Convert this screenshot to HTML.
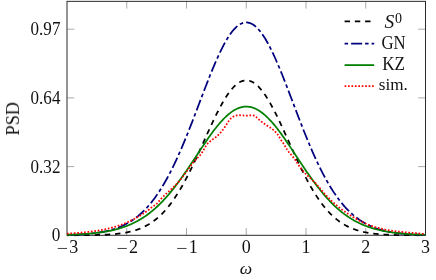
<!DOCTYPE html>
<html><head><meta charset="utf-8"><title>PSD plot</title>
<style>
html,body{margin:0;padding:0;background:#fff;}
svg{display:block;}
text{font-family:"Liberation Serif",serif;fill:#111;}
</style></head><body>
<svg width="436" height="280" viewBox="0 0 436 280">
<rect x="0" y="0" width="436" height="280" fill="#fff"/>
<g stroke="#2a2a2a" stroke-width="0.4" fill="none">
<line x1="126.75" y1="235.3" x2="126.75" y2="228.0"/><line x1="126.75" y1="1.35" x2="126.75" y2="8.65"/>
<line x1="186.50" y1="235.3" x2="186.50" y2="228.0"/><line x1="186.50" y1="1.35" x2="186.50" y2="8.65"/>
<line x1="246.25" y1="235.3" x2="246.25" y2="228.0"/><line x1="246.25" y1="1.35" x2="246.25" y2="8.65"/>
<line x1="306.00" y1="235.3" x2="306.00" y2="228.0"/><line x1="306.00" y1="1.35" x2="306.00" y2="8.65"/>
<line x1="365.75" y1="235.3" x2="365.75" y2="228.0"/><line x1="365.75" y1="1.35" x2="365.75" y2="8.65"/>
<line x1="67.0" y1="166.60" x2="74.3" y2="166.60"/><line x1="425.5" y1="166.60" x2="418.2" y2="166.60"/>
<line x1="67.0" y1="97.90" x2="74.3" y2="97.90"/><line x1="425.5" y1="97.90" x2="418.2" y2="97.90"/>
<line x1="67.0" y1="29.20" x2="74.3" y2="29.20"/><line x1="425.5" y1="29.20" x2="418.2" y2="29.20"/>
</g>
<rect x="67.0" y="1.35" width="358.5" height="233.95000000000002" fill="none" stroke="#2a2a2a" stroke-width="1.0"/>
<clipPath id="c"><rect x="66.6" y="1.35" width="359.0" height="235.15"/></clipPath>
<g fill="none" clip-path="url(#c)" stroke-linejoin="round">
<path d="M67.00,235.28 L68.00,235.28 L69.00,235.28 L70.00,235.27 L71.00,235.27 L72.00,235.27 L73.00,235.26 L74.00,235.26 L75.00,235.26 L76.00,235.25 L77.00,235.25 L78.00,235.24 L79.00,235.24 L80.00,235.23 L81.00,235.22 L82.00,235.22 L83.00,235.21 L84.00,235.20 L85.00,235.19 L86.00,235.18 L87.00,235.17 L88.00,235.15 L89.00,235.14 L90.00,235.13 L91.00,235.11 L92.00,235.09 L93.00,235.08 L94.00,235.06 L95.00,235.03 L96.00,235.01 L97.00,234.99 L98.00,234.96 L99.00,234.93 L100.00,234.90 L101.00,234.86 L102.00,234.83 L103.00,234.79 L104.00,234.75 L105.00,234.70 L106.00,234.65 L107.00,234.60 L108.00,234.54 L109.00,234.48 L110.00,234.42 L111.00,234.35 L112.00,234.28 L113.00,234.20 L114.00,234.11 L115.00,234.02 L116.00,233.92 L117.00,233.82 L118.00,233.71 L119.00,233.59 L120.00,233.47 L121.00,233.34 L122.00,233.20 L123.00,233.04 L124.00,232.89 L125.00,232.72 L126.00,232.54 L127.00,232.35 L128.00,232.14 L129.00,231.93 L130.00,231.70 L131.00,231.46 L132.00,231.21 L133.00,230.94 L134.00,230.66 L135.00,230.36 L136.00,230.05 L137.00,229.72 L138.00,229.37 L139.00,229.00 L140.00,228.62 L141.00,228.21 L142.00,227.79 L143.00,227.34 L144.00,226.87 L145.00,226.38 L146.00,225.86 L147.00,225.32 L148.00,224.76 L149.00,224.17 L150.00,223.55 L151.00,222.91 L152.00,222.24 L153.00,221.54 L154.00,220.81 L155.00,220.05 L156.00,219.26 L157.00,218.44 L158.00,217.58 L159.00,216.70 L160.00,215.78 L161.00,214.82 L162.00,213.83 L163.00,212.81 L164.00,211.75 L165.00,210.65 L166.00,209.52 L167.00,208.34 L168.00,207.14 L169.00,205.89 L170.00,204.61 L171.00,203.28 L172.00,201.92 L173.00,200.52 L174.00,199.08 L175.00,197.61 L176.00,196.09 L177.00,194.54 L178.00,192.95 L179.00,191.32 L180.00,189.66 L181.00,187.95 L182.00,186.22 L183.00,184.44 L184.00,182.63 L185.00,180.79 L186.00,178.91 L187.00,177.01 L188.00,175.07 L189.00,173.10 L190.00,171.10 L191.00,169.08 L192.00,167.03 L193.00,164.95 L194.00,162.86 L195.00,160.74 L196.00,158.60 L197.00,156.45 L198.00,154.28 L199.00,152.09 L200.00,149.90 L201.00,147.69 L202.00,145.48 L203.00,143.27 L204.00,141.05 L205.00,138.83 L206.00,136.62 L207.00,134.41 L208.00,132.21 L209.00,130.02 L210.00,127.84 L211.00,125.68 L212.00,123.54 L213.00,121.42 L214.00,119.32 L215.00,117.25 L216.00,115.22 L217.00,113.21 L218.00,111.24 L219.00,109.31 L220.00,107.42 L221.00,105.57 L222.00,103.77 L223.00,102.02 L224.00,100.32 L225.00,98.67 L226.00,97.08 L227.00,95.56 L228.00,94.09 L229.00,92.69 L230.00,91.35 L231.00,90.08 L232.00,88.88 L233.00,87.76 L234.00,86.71 L235.00,85.73 L236.00,84.83 L237.00,84.01 L238.00,83.28 L239.00,82.62 L240.00,82.04 L241.00,81.55 L242.00,81.14 L243.00,80.82 L244.00,80.59 L245.00,80.43 L246.00,80.37 L247.00,80.39 L248.00,80.50 L249.00,80.69 L250.00,80.97 L251.00,81.34 L252.00,81.79 L253.00,82.32 L254.00,82.94 L255.00,83.63 L256.00,84.41 L257.00,85.27 L258.00,86.21 L259.00,87.22 L260.00,88.31 L261.00,89.47 L262.00,90.71 L263.00,92.01 L264.00,93.38 L265.00,94.81 L266.00,96.31 L267.00,97.87 L268.00,99.49 L269.00,101.16 L270.00,102.89 L271.00,104.66 L272.00,106.49 L273.00,108.36 L274.00,110.27 L275.00,112.22 L276.00,114.21 L277.00,116.23 L278.00,118.28 L279.00,120.37 L280.00,122.48 L281.00,124.61 L282.00,126.76 L283.00,128.93 L284.00,131.11 L285.00,133.31 L286.00,135.51 L287.00,137.73 L288.00,139.94 L289.00,142.16 L290.00,144.38 L291.00,146.59 L292.00,148.80 L293.00,151.00 L294.00,153.19 L295.00,155.36 L296.00,157.52 L297.00,159.67 L298.00,161.80 L299.00,163.91 L300.00,165.99 L301.00,168.06 L302.00,170.09 L303.00,172.10 L304.00,174.09 L305.00,176.04 L306.00,177.96 L307.00,179.86 L308.00,181.72 L309.00,183.54 L310.00,185.33 L311.00,187.09 L312.00,188.81 L313.00,190.49 L314.00,192.14 L315.00,193.75 L316.00,195.32 L317.00,196.86 L318.00,198.35 L319.00,199.81 L320.00,201.23 L321.00,202.61 L322.00,203.95 L323.00,205.25 L324.00,206.52 L325.00,207.74 L326.00,208.93 L327.00,210.09 L328.00,211.20 L329.00,212.28 L330.00,213.32 L331.00,214.33 L332.00,215.30 L333.00,216.24 L334.00,217.15 L335.00,218.02 L336.00,218.85 L337.00,219.66 L338.00,220.43 L339.00,221.18 L340.00,221.89 L341.00,222.58 L342.00,223.24 L343.00,223.87 L344.00,224.47 L345.00,225.05 L346.00,225.60 L347.00,226.12 L348.00,226.63 L349.00,227.11 L350.00,227.56 L351.00,228.00 L352.00,228.42 L353.00,228.81 L354.00,229.19 L355.00,229.55 L356.00,229.89 L357.00,230.21 L358.00,230.51 L359.00,230.80 L360.00,231.08 L361.00,231.34 L362.00,231.59 L363.00,231.82 L364.00,232.04 L365.00,232.25 L366.00,232.44 L367.00,232.63 L368.00,232.80 L369.00,232.97 L370.00,233.12 L371.00,233.27 L372.00,233.40 L373.00,233.53 L374.00,233.65 L375.00,233.77 L376.00,233.87 L377.00,233.97 L378.00,234.07 L379.00,234.15 L380.00,234.24 L381.00,234.31 L382.00,234.38 L383.00,234.45 L384.00,234.51 L385.00,234.57 L386.00,234.63 L387.00,234.68 L388.00,234.72 L389.00,234.77 L390.00,234.81 L391.00,234.85 L392.00,234.88 L393.00,234.91 L394.00,234.94 L395.00,234.97 L396.00,235.00 L397.00,235.02 L398.00,235.05 L399.00,235.07 L400.00,235.09 L401.00,235.10 L402.00,235.12 L403.00,235.13 L404.00,235.15 L405.00,235.16 L406.00,235.17 L407.00,235.18 L408.00,235.19 L409.00,235.20 L410.00,235.21 L411.00,235.22 L412.00,235.23 L413.00,235.23 L414.00,235.24 L415.00,235.24 L416.00,235.25 L417.00,235.25 L418.00,235.26 L419.00,235.26 L420.00,235.27 L421.00,235.27 L422.00,235.27 L423.00,235.27 L424.00,235.28 L425.00,235.28" stroke="#000" stroke-width="1.75" stroke-dasharray="5.4 4.9" stroke-dashoffset="3.4"/>
<path d="M67.00,234.94 L68.00,234.92 L69.00,234.89 L70.00,234.86 L71.00,234.83 L72.00,234.79 L73.00,234.76 L74.00,234.72 L75.00,234.68 L76.00,234.64 L77.00,234.59 L78.00,234.55 L79.00,234.49 L80.00,234.44 L81.00,234.38 L82.00,234.32 L83.00,234.26 L84.00,234.19 L85.00,234.12 L86.00,234.04 L87.00,233.96 L88.00,233.88 L89.00,233.79 L90.00,233.69 L91.00,233.59 L92.00,233.48 L93.00,233.37 L94.00,233.25 L95.00,233.13 L96.00,233.00 L97.00,232.86 L98.00,232.71 L99.00,232.56 L100.00,232.40 L101.00,232.23 L102.00,232.05 L103.00,231.87 L104.00,231.67 L105.00,231.46 L106.00,231.25 L107.00,231.02 L108.00,230.78 L109.00,230.53 L110.00,230.27 L111.00,230.00 L112.00,229.71 L113.00,229.41 L114.00,229.10 L115.00,228.77 L116.00,228.43 L117.00,228.07 L118.00,227.70 L119.00,227.31 L120.00,226.91 L121.00,226.48 L122.00,226.04 L123.00,225.58 L124.00,225.11 L125.00,224.61 L126.00,224.09 L127.00,223.55 L128.00,222.99 L129.00,222.41 L130.00,221.81 L131.00,221.18 L132.00,220.53 L133.00,219.85 L134.00,219.15 L135.00,218.42 L136.00,217.67 L137.00,216.89 L138.00,216.09 L139.00,215.25 L140.00,214.39 L141.00,213.50 L142.00,212.58 L143.00,211.63 L144.00,210.64 L145.00,209.63 L146.00,208.58 L147.00,207.51 L148.00,206.40 L149.00,205.25 L150.00,204.07 L151.00,202.86 L152.00,201.61 L153.00,200.33 L154.00,199.01 L155.00,197.65 L156.00,196.26 L157.00,194.83 L158.00,193.37 L159.00,191.87 L160.00,190.33 L161.00,188.75 L162.00,187.13 L163.00,185.48 L164.00,183.79 L165.00,182.06 L166.00,180.29 L167.00,178.49 L168.00,176.64 L169.00,174.76 L170.00,172.84 L171.00,170.89 L172.00,168.89 L173.00,166.86 L174.00,164.80 L175.00,162.70 L176.00,160.56 L177.00,158.39 L178.00,156.19 L179.00,153.95 L180.00,151.68 L181.00,149.38 L182.00,147.05 L183.00,144.69 L184.00,142.30 L185.00,139.88 L186.00,137.44 L187.00,134.97 L188.00,132.48 L189.00,129.97 L190.00,127.44 L191.00,124.89 L192.00,122.32 L193.00,119.74 L194.00,117.14 L195.00,114.54 L196.00,111.92 L197.00,109.30 L198.00,106.67 L199.00,104.03 L200.00,101.40 L201.00,98.77 L202.00,96.14 L203.00,93.52 L204.00,90.90 L205.00,88.30 L206.00,85.71 L207.00,83.14 L208.00,80.58 L209.00,78.05 L210.00,75.54 L211.00,73.05 L212.00,70.60 L213.00,68.18 L214.00,65.79 L215.00,63.44 L216.00,61.13 L217.00,58.86 L218.00,56.64 L219.00,54.47 L220.00,52.35 L221.00,50.28 L222.00,48.27 L223.00,46.32 L224.00,44.42 L225.00,42.60 L226.00,40.83 L227.00,39.14 L228.00,37.52 L229.00,35.97 L230.00,34.50 L231.00,33.10 L232.00,31.78 L233.00,30.54 L234.00,29.39 L235.00,28.32 L236.00,27.34 L237.00,26.44 L238.00,25.63 L239.00,24.91 L240.00,24.28 L241.00,23.74 L242.00,23.30 L243.00,22.95 L244.00,22.69 L245.00,22.52 L246.00,22.45 L247.00,22.48 L248.00,22.59 L249.00,22.81 L250.00,23.11 L251.00,23.51 L252.00,24.00 L253.00,24.58 L254.00,25.26 L255.00,26.02 L256.00,26.88 L257.00,27.82 L258.00,28.84 L259.00,29.96 L260.00,31.15 L261.00,32.43 L262.00,33.79 L263.00,35.22 L264.00,36.74 L265.00,38.32 L266.00,39.98 L267.00,41.71 L268.00,43.50 L269.00,45.36 L270.00,47.28 L271.00,49.27 L272.00,51.31 L273.00,53.40 L274.00,55.55 L275.00,57.75 L276.00,59.99 L277.00,62.28 L278.00,64.61 L279.00,66.98 L280.00,69.38 L281.00,71.82 L282.00,74.29 L283.00,76.79 L284.00,79.31 L285.00,81.86 L286.00,84.42 L287.00,87.00 L288.00,89.60 L289.00,92.21 L290.00,94.83 L291.00,97.45 L292.00,100.08 L293.00,102.72 L294.00,105.35 L295.00,107.98 L296.00,110.61 L297.00,113.23 L298.00,115.84 L299.00,118.44 L300.00,121.03 L301.00,123.61 L302.00,126.17 L303.00,128.71 L304.00,131.23 L305.00,133.73 L306.00,136.21 L307.00,138.66 L308.00,141.09 L309.00,143.49 L310.00,145.87 L311.00,148.22 L312.00,150.53 L313.00,152.82 L314.00,155.07 L315.00,157.29 L316.00,159.48 L317.00,161.63 L318.00,163.75 L319.00,165.84 L320.00,167.88 L321.00,169.89 L322.00,171.87 L323.00,173.81 L324.00,175.71 L325.00,177.57 L326.00,179.39 L327.00,181.18 L328.00,182.93 L329.00,184.64 L330.00,186.31 L331.00,187.95 L332.00,189.54 L333.00,191.10 L334.00,192.62 L335.00,194.11 L336.00,195.55 L337.00,196.96 L338.00,198.34 L339.00,199.67 L340.00,200.97 L341.00,202.24 L342.00,203.47 L343.00,204.67 L344.00,205.83 L345.00,206.96 L346.00,208.05 L347.00,209.11 L348.00,210.14 L349.00,211.14 L350.00,212.11 L351.00,213.04 L352.00,213.95 L353.00,214.83 L354.00,215.67 L355.00,216.49 L356.00,217.29 L357.00,218.05 L358.00,218.79 L359.00,219.50 L360.00,220.19 L361.00,220.86 L362.00,221.49 L363.00,222.11 L364.00,222.70 L365.00,223.27 L366.00,223.82 L367.00,224.35 L368.00,224.86 L369.00,225.35 L370.00,225.82 L371.00,226.27 L372.00,226.70 L373.00,227.11 L374.00,227.51 L375.00,227.89 L376.00,228.26 L377.00,228.60 L378.00,228.94 L379.00,229.26 L380.00,229.57 L381.00,229.86 L382.00,230.14 L383.00,230.40 L384.00,230.66 L385.00,230.90 L386.00,231.14 L387.00,231.36 L388.00,231.57 L389.00,231.77 L390.00,231.96 L391.00,232.14 L392.00,232.32 L393.00,232.48 L394.00,232.64 L395.00,232.79 L396.00,232.93 L397.00,233.06 L398.00,233.19 L399.00,233.31 L400.00,233.43 L401.00,233.54 L402.00,233.64 L403.00,233.74 L404.00,233.83 L405.00,233.92 L406.00,234.00 L407.00,234.08 L408.00,234.15 L409.00,234.22 L410.00,234.29 L411.00,234.35 L412.00,234.41 L413.00,234.47 L414.00,234.52 L415.00,234.57 L416.00,234.62 L417.00,234.66 L418.00,234.70 L419.00,234.74 L420.00,234.78 L421.00,234.81 L422.00,234.84 L423.00,234.87 L424.00,234.90 L425.00,234.93" stroke="#00007f" stroke-width="1.75" stroke-dasharray="11.15 3.04 3.55 3.04" stroke-dashoffset="10.7"/>
<path d="M67.00,234.80 L68.00,234.77 L69.00,234.74 L70.00,234.70 L71.00,234.67 L72.00,234.63 L73.00,234.59 L74.00,234.55 L75.00,234.51 L76.00,234.47 L77.00,234.42 L78.00,234.37 L79.00,234.32 L80.00,234.27 L81.00,234.21 L82.00,234.16 L83.00,234.09 L84.00,234.03 L85.00,233.96 L86.00,233.89 L87.00,233.81 L88.00,233.74 L89.00,233.66 L90.00,233.57 L91.00,233.48 L92.00,233.39 L93.00,233.29 L94.00,233.19 L95.00,233.08 L96.00,232.97 L97.00,232.85 L98.00,232.73 L99.00,232.60 L100.00,232.47 L101.00,232.33 L102.00,232.18 L103.00,232.03 L104.00,231.87 L105.00,231.71 L106.00,231.53 L107.00,231.36 L108.00,231.17 L109.00,230.97 L110.00,230.77 L111.00,230.56 L112.00,230.34 L113.00,230.12 L114.00,229.88 L115.00,229.63 L116.00,229.38 L117.00,229.11 L118.00,228.84 L119.00,228.55 L120.00,228.25 L121.00,227.95 L122.00,227.63 L123.00,227.29 L124.00,226.95 L125.00,226.59 L126.00,226.23 L127.00,225.84 L128.00,225.45 L129.00,225.04 L130.00,224.62 L131.00,224.18 L132.00,223.73 L133.00,223.26 L134.00,222.78 L135.00,222.28 L136.00,221.76 L137.00,221.23 L138.00,220.69 L139.00,220.12 L140.00,219.54 L141.00,218.94 L142.00,218.32 L143.00,217.69 L144.00,217.03 L145.00,216.36 L146.00,215.67 L147.00,214.95 L148.00,214.22 L149.00,213.47 L150.00,212.70 L151.00,211.91 L152.00,211.10 L153.00,210.26 L154.00,209.41 L155.00,208.54 L156.00,207.64 L157.00,206.73 L158.00,205.79 L159.00,204.83 L160.00,203.85 L161.00,202.85 L162.00,201.82 L163.00,200.78 L164.00,199.71 L165.00,198.63 L166.00,197.52 L167.00,196.39 L168.00,195.24 L169.00,194.07 L170.00,192.88 L171.00,191.67 L172.00,190.44 L173.00,189.20 L174.00,187.93 L175.00,186.64 L176.00,185.34 L177.00,184.01 L178.00,182.68 L179.00,181.32 L180.00,179.95 L181.00,178.56 L182.00,177.16 L183.00,175.74 L184.00,174.31 L185.00,172.87 L186.00,171.42 L187.00,169.95 L188.00,168.48 L189.00,167.00 L190.00,165.51 L191.00,164.01 L192.00,162.50 L193.00,160.99 L194.00,159.48 L195.00,157.96 L196.00,156.45 L197.00,154.93 L198.00,153.41 L199.00,151.89 L200.00,150.38 L201.00,148.87 L202.00,147.37 L203.00,145.87 L204.00,144.39 L205.00,142.91 L206.00,141.44 L207.00,139.99 L208.00,138.55 L209.00,137.12 L210.00,135.71 L211.00,134.32 L212.00,132.95 L213.00,131.60 L214.00,130.27 L215.00,128.97 L216.00,127.69 L217.00,126.43 L218.00,125.21 L219.00,124.01 L220.00,122.84 L221.00,121.71 L222.00,120.60 L223.00,119.53 L224.00,118.50 L225.00,117.50 L226.00,116.54 L227.00,115.62 L228.00,114.74 L229.00,113.90 L230.00,113.10 L231.00,112.34 L232.00,111.63 L233.00,110.96 L234.00,110.34 L235.00,109.76 L236.00,109.23 L237.00,108.74 L238.00,108.31 L239.00,107.92 L240.00,107.58 L241.00,107.29 L242.00,107.06 L243.00,106.87 L244.00,106.73 L245.00,106.64 L246.00,106.60 L247.00,106.61 L248.00,106.68 L249.00,106.79 L250.00,106.96 L251.00,107.17 L252.00,107.43 L253.00,107.75 L254.00,108.11 L255.00,108.52 L256.00,108.98 L257.00,109.49 L258.00,110.04 L259.00,110.64 L260.00,111.29 L261.00,111.98 L262.00,112.71 L263.00,113.49 L264.00,114.31 L265.00,115.17 L266.00,116.08 L267.00,117.02 L268.00,118.00 L269.00,119.01 L270.00,120.06 L271.00,121.15 L272.00,122.27 L273.00,123.42 L274.00,124.60 L275.00,125.82 L276.00,127.06 L277.00,128.32 L278.00,129.62 L279.00,130.93 L280.00,132.27 L281.00,133.64 L282.00,135.02 L283.00,136.42 L284.00,137.83 L285.00,139.27 L286.00,140.71 L287.00,142.17 L288.00,143.65 L289.00,145.13 L290.00,146.62 L291.00,148.12 L292.00,149.63 L293.00,151.14 L294.00,152.65 L295.00,154.17 L296.00,155.69 L297.00,157.21 L298.00,158.72 L299.00,160.24 L300.00,161.75 L301.00,163.26 L302.00,164.76 L303.00,166.25 L304.00,167.74 L305.00,169.22 L306.00,170.69 L307.00,172.15 L308.00,173.59 L309.00,175.03 L310.00,176.45 L311.00,177.86 L312.00,179.26 L313.00,180.64 L314.00,182.00 L315.00,183.35 L316.00,184.68 L317.00,185.99 L318.00,187.29 L319.00,188.56 L320.00,189.82 L321.00,191.06 L322.00,192.28 L323.00,193.48 L324.00,194.66 L325.00,195.82 L326.00,196.96 L327.00,198.08 L328.00,199.17 L329.00,200.25 L330.00,201.31 L331.00,202.34 L332.00,203.35 L333.00,204.34 L334.00,205.31 L335.00,206.26 L336.00,207.19 L337.00,208.09 L338.00,208.98 L339.00,209.84 L340.00,210.68 L341.00,211.51 L342.00,212.31 L343.00,213.09 L344.00,213.85 L345.00,214.59 L346.00,215.31 L347.00,216.01 L348.00,216.70 L349.00,217.36 L350.00,218.01 L351.00,218.63 L352.00,219.24 L353.00,219.83 L354.00,220.41 L355.00,220.96 L356.00,221.50 L357.00,222.02 L358.00,222.53 L359.00,223.02 L360.00,223.50 L361.00,223.96 L362.00,224.40 L363.00,224.83 L364.00,225.25 L365.00,225.65 L366.00,226.04 L367.00,226.41 L368.00,226.77 L369.00,227.12 L370.00,227.46 L371.00,227.79 L372.00,228.10 L373.00,228.40 L374.00,228.69 L375.00,228.98 L376.00,229.25 L377.00,229.51 L378.00,229.76 L379.00,230.00 L380.00,230.23 L381.00,230.45 L382.00,230.67 L383.00,230.87 L384.00,231.07 L385.00,231.26 L386.00,231.45 L387.00,231.62 L388.00,231.79 L389.00,231.95 L390.00,232.11 L391.00,232.25 L392.00,232.40 L393.00,232.53 L394.00,232.66 L395.00,232.79 L396.00,232.91 L397.00,233.02 L398.00,233.13 L399.00,233.24 L400.00,233.34 L401.00,233.43 L402.00,233.53 L403.00,233.61 L404.00,233.70 L405.00,233.78 L406.00,233.85 L407.00,233.93 L408.00,234.00 L409.00,234.06 L410.00,234.12 L411.00,234.18 L412.00,234.24 L413.00,234.30 L414.00,234.35 L415.00,234.40 L416.00,234.45 L417.00,234.49 L418.00,234.53 L419.00,234.57 L420.00,234.61 L421.00,234.65 L422.00,234.69 L423.00,234.72 L424.00,234.75 L425.00,234.78" stroke="#007f00" stroke-width="1.75"/>
<path d="M67.00,233.63 L68.00,233.63 L69.00,233.58 L70.00,233.50 L71.00,233.43 L72.00,233.36 L73.00,233.28 L74.00,233.21 L75.00,233.13 L76.00,233.06 L77.00,232.98 L78.00,232.90 L79.00,232.82 L80.00,232.73 L81.00,232.65 L82.00,232.56 L83.00,232.47 L84.00,232.37 L85.00,232.28 L86.00,232.18 L87.00,232.07 L88.00,231.96 L89.00,231.85 L90.00,231.74 L91.00,231.62 L92.00,231.49 L93.00,231.36 L94.00,231.23 L95.00,231.09 L96.00,230.94 L97.00,230.79 L98.00,230.63 L99.00,230.47 L100.00,230.30 L101.00,230.12 L102.00,229.93 L103.00,229.74 L104.00,229.54 L105.00,229.34 L106.00,229.13 L107.00,228.90 L108.00,228.67 L109.00,228.43 L110.00,228.19 L111.00,227.93 L112.00,227.67 L113.00,227.39 L114.00,227.11 L115.00,226.81 L116.00,226.51 L117.00,226.20 L118.00,225.87 L119.00,225.54 L120.00,225.19 L121.00,224.84 L122.00,224.47 L123.00,224.09 L124.00,223.70 L125.00,223.29 L126.00,222.88 L127.00,222.45 L128.00,222.01 L129.00,221.55 L130.00,221.09 L131.00,220.61 L132.00,220.11 L133.00,219.61 L134.00,219.08 L135.00,218.55 L136.00,218.00 L137.00,217.43 L138.00,216.86 L139.00,216.26 L140.00,215.65 L141.00,215.03 L142.00,214.38 L143.00,213.73 L144.00,213.05 L145.00,212.36 L146.00,211.66 L147.00,210.94 L148.00,210.20 L149.00,209.44 L150.00,208.67 L151.00,207.89 L152.00,207.12 L153.00,206.38 L154.00,205.77 L155.00,205.29 L156.00,204.63 L157.00,203.56 L158.00,202.38 L159.00,201.16 L160.00,199.98 L161.00,198.87 L162.00,197.82 L163.00,196.81 L164.00,195.84 L165.00,194.89 L166.00,193.97 L167.00,193.06 L168.00,192.15 L169.00,191.24 L170.00,190.32 L171.00,189.40 L172.00,188.47 L173.00,187.52 L174.00,186.55 L175.00,185.56 L176.00,184.54 L177.00,183.49 L178.00,182.41 L179.00,181.30 L180.00,180.14 L181.00,178.94 L182.00,177.68 L183.00,176.39 L184.00,175.06 L185.00,173.69 L186.00,172.31 L187.00,170.92 L188.00,169.52 L189.00,168.14 L190.00,166.77 L191.00,165.42 L192.00,164.10 L193.00,162.83 L194.00,161.61 L195.00,160.45 L196.00,159.35 L197.00,158.33 L198.00,157.35 L199.00,156.34 L200.00,155.25 L201.00,154.02 L202.00,152.60 L203.00,151.02 L204.00,149.33 L205.00,147.56 L206.00,145.82 L207.00,144.37 L208.00,143.26 L209.00,142.33 L210.00,141.47 L211.00,140.67 L212.00,139.91 L213.00,139.17 L214.00,138.44 L215.00,137.70 L216.00,136.94 L217.00,136.13 L218.00,135.26 L219.00,134.31 L220.00,133.27 L221.00,132.14 L222.00,130.92 L223.00,129.61 L224.00,128.21 L225.00,126.74 L226.00,125.21 L227.00,123.66 L228.00,122.10 L229.00,120.65 L230.00,119.37 L231.00,118.32 L232.00,117.47 L233.00,116.79 L234.00,116.26 L235.00,115.87 L236.00,115.58 L237.00,115.39 L238.00,115.27 L239.00,115.23 L240.00,115.23 L241.00,115.28 L242.00,115.36 L243.00,115.45 L244.00,115.54 L245.00,115.63 L246.00,115.69 L247.00,115.71 L248.00,115.69 L249.00,115.60 L250.00,115.47 L251.00,115.34 L252.00,115.27 L253.00,115.33 L254.00,115.58 L255.00,116.07 L256.00,116.84 L257.00,117.80 L258.00,118.79 L259.00,119.68 L260.00,120.49 L261.00,121.26 L262.00,122.02 L263.00,122.76 L264.00,123.49 L265.00,124.20 L266.00,124.88 L267.00,125.53 L268.00,126.18 L269.00,126.82 L270.00,127.47 L271.00,128.16 L272.00,128.89 L273.00,129.67 L274.00,130.53 L275.00,131.48 L276.00,132.52 L277.00,133.69 L278.00,135.00 L279.00,136.52 L280.00,138.25 L281.00,139.94 L282.00,141.40 L283.00,142.81 L284.00,144.37 L285.00,146.05 L286.00,147.77 L287.00,149.41 L288.00,150.88 L289.00,152.19 L290.00,153.39 L291.00,154.53 L292.00,155.68 L293.00,156.88 L294.00,158.18 L295.00,159.59 L296.00,161.07 L297.00,162.60 L298.00,164.13 L299.00,165.65 L300.00,167.10 L301.00,168.47 L302.00,169.75 L303.00,170.94 L304.00,172.06 L305.00,173.12 L306.00,174.12 L307.00,175.09 L308.00,176.02 L309.00,176.93 L310.00,177.84 L311.00,178.75 L312.00,179.67 L313.00,180.61 L314.00,181.59 L315.00,182.60 L316.00,183.68 L317.00,184.81 L318.00,185.98 L319.00,187.19 L320.00,188.40 L321.00,189.62 L322.00,190.83 L323.00,192.00 L324.00,193.15 L325.00,194.27 L326.00,195.35 L327.00,196.42 L328.00,197.45 L329.00,198.46 L330.00,199.45 L331.00,200.41 L332.00,201.34 L333.00,202.26 L334.00,203.15 L335.00,204.02 L336.00,204.87 L337.00,205.70 L338.00,206.52 L339.00,207.31 L340.00,208.09 L341.00,208.85 L342.00,209.59 L343.00,210.32 L344.00,211.04 L345.00,211.74 L346.00,212.43 L347.00,213.11 L348.00,213.77 L349.00,214.43 L350.00,215.07 L351.00,215.71 L352.00,216.33 L353.00,216.94 L354.00,217.54 L355.00,218.13 L356.00,218.71 L357.00,219.27 L358.00,219.82 L359.00,220.36 L360.00,220.89 L361.00,221.40 L362.00,221.90 L363.00,222.38 L364.00,222.85 L365.00,223.30 L366.00,223.74 L367.00,224.17 L368.00,224.58 L369.00,224.97 L370.00,225.35 L371.00,225.72 L372.00,226.07 L373.00,226.41 L374.00,226.74 L375.00,227.05 L376.00,227.35 L377.00,227.64 L378.00,227.92 L379.00,228.18 L380.00,228.44 L381.00,228.68 L382.00,228.92 L383.00,229.14 L384.00,229.36 L385.00,229.56 L386.00,229.76 L387.00,229.94 L388.00,230.12 L389.00,230.30 L390.00,230.46 L391.00,230.62 L392.00,230.77 L393.00,230.91 L394.00,231.05 L395.00,231.18 L396.00,231.30 L397.00,231.42 L398.00,231.54 L399.00,231.65 L400.00,231.76 L401.00,231.86 L402.00,231.96 L403.00,232.06 L404.00,232.16 L405.00,232.25 L406.00,232.34 L407.00,232.43 L408.00,232.51 L409.00,232.60 L410.00,232.69 L411.00,232.77 L412.00,232.86 L413.00,232.94 L414.00,233.03 L415.00,233.12 L416.00,233.21 L417.00,233.30 L418.00,233.39 L419.00,233.49 L420.00,233.58 L421.00,233.69 L422.00,233.79 L423.00,233.90 L424.00,233.98 L425.00,233.98" stroke="#ff0000" stroke-width="1.75" stroke-dasharray="1.7 1.73" stroke-dashoffset="0"/>
</g>
<g fill="none">
<line x1="344.6" y1="21.37" x2="374.2" y2="21.37" stroke="#000" stroke-width="1.75" stroke-dasharray="5.4 4.85"/>
<line x1="344.6" y1="43.74" x2="374.2" y2="43.74" stroke="#00007f" stroke-width="1.75" stroke-dasharray="11 3 3.5 3" stroke-dashoffset="14"/>
<line x1="344.6" y1="65.1" x2="374.2" y2="65.1" stroke="#007f00" stroke-width="1.75"/>
<line x1="344.6" y1="86.06" x2="374.2" y2="86.06" stroke="#ff0000" stroke-width="1.75" stroke-dasharray="1.7 1.73"/>
</g>
<g font-size="17.5" text-anchor="middle" opacity="0.999">
<text x="393.3" y="27.6"><tspan font-style="italic" font-size="19.5">S</tspan><tspan font-size="14" dy="-5.1" dx="0.8">0</tspan></text>
<text x="393.5" y="48.7" font-size="18.3" textLength="24.2" lengthAdjust="spacingAndGlyphs">GN</text>
<text x="393.65" y="69.6" font-size="18.3" textLength="22.9" lengthAdjust="spacingAndGlyphs">KZ</text>
<text x="393.35" y="90.3" textLength="29.1" lengthAdjust="spacingAndGlyphs">sim.</text>
<text y="253" font-size="18"><tspan x="62.50" dy="1.6" font-size="20" fill="#444">−</tspan><tspan x="73.85" dy="-1.6">3</tspan></text>
<text y="253" font-size="18"><tspan x="122.25" dy="1.6" font-size="20" fill="#444">−</tspan><tspan x="133.60" dy="-1.6">2</tspan></text>
<text y="253" font-size="18"><tspan x="182.00" dy="1.6" font-size="20" fill="#444">−</tspan><tspan x="193.35" dy="-1.6">1</tspan></text>
<text x="246.25" y="253" font-size="18">0</text>
<text x="306.00" y="253" font-size="18">1</text>
<text x="365.75" y="253" font-size="18">2</text>
<text x="425.50" y="253" font-size="18">3</text>
<text x="246" y="273.8" font-style="italic">ω</text>
<text transform="translate(19,118.7) rotate(-90)" font-size="18.2">PSD</text>
</g>
<g font-size="17.5" text-anchor="end" opacity="0.999">
<text x="60.4" y="241.40" font-size="18" textLength="8.6" lengthAdjust="spacingAndGlyphs">0</text>
<text x="60.4" y="172.70" font-size="18" textLength="29.8" lengthAdjust="spacingAndGlyphs">0.32</text>
<text x="60.4" y="104.00" font-size="18" textLength="29.8" lengthAdjust="spacingAndGlyphs">0.64</text>
<text x="60.4" y="35.30" font-size="18" textLength="29.8" lengthAdjust="spacingAndGlyphs">0.97</text>
</g>
</svg></body></html>
